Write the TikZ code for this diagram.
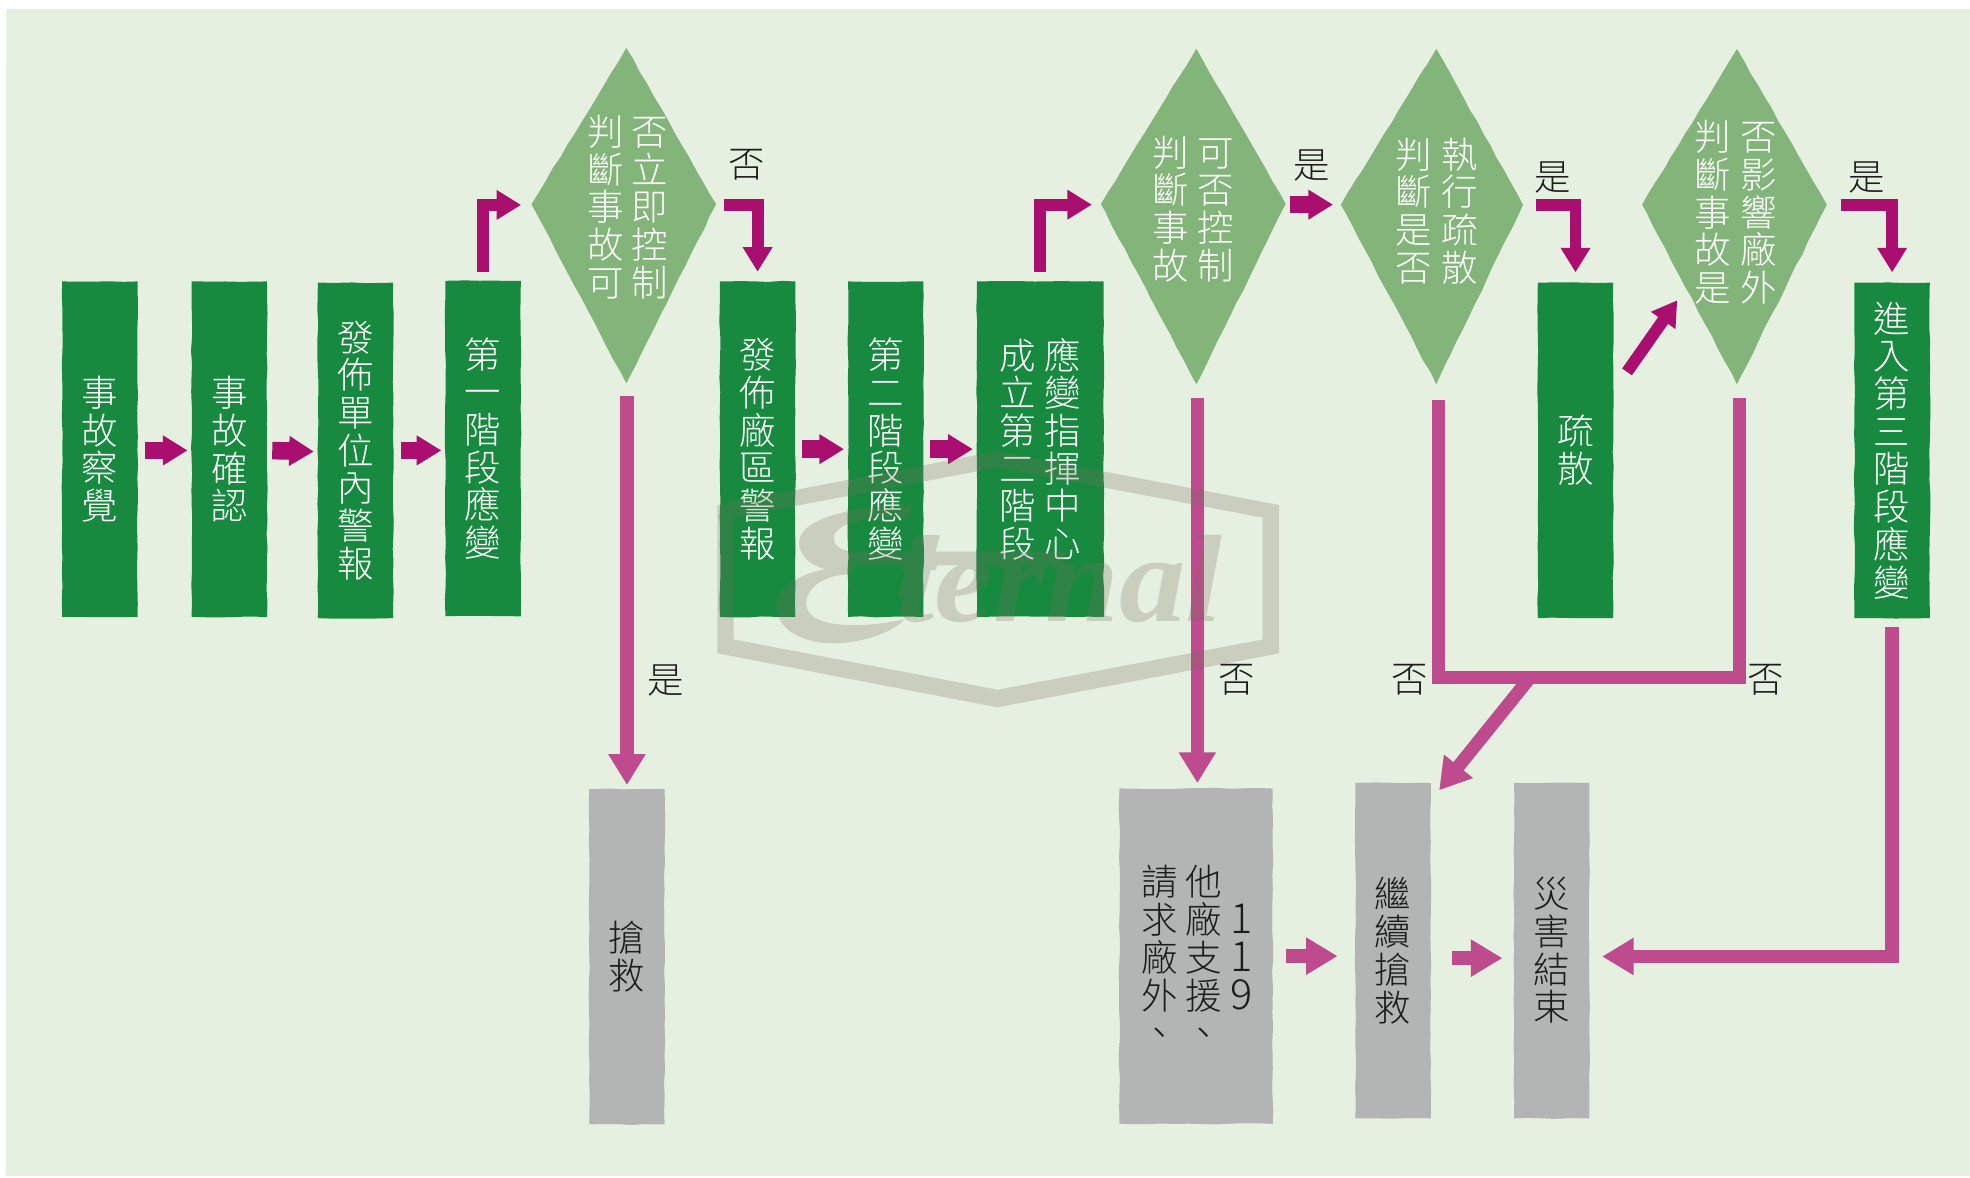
\documentclass[tikz,border=0pt]{standalone}
\usepackage{fontspec}
\usetikzlibrary{arrows.meta,decorations.pathmorphing,calc}
\newfontfamily\cjkl{Noto Sans CJK TC Light}
\newfontfamily\wmfont[Ligatures=TeX]{Liberation Serif}
\definecolor{bgc}{RGB}{230,240,224}
\definecolor{gbc}{RGB}{24,138,63}
\definecolor{dic}{RGB}{131,181,123}
\definecolor{gyc}{RGB}{179,181,180}
\definecolor{mgc}{RGB}{170,15,111}
\definecolor{pkc}{RGB}{189,75,141}
\definecolor{wmc}{RGB}{119,111,96}
\definecolor{txc}{RGB}{28,28,28}
\newcommand\vc[1]{\vtop{\let\\\cr\lineskiplimit=-60pt\baselineskip=30pt\halign{\hfil##\hfil\cr#1\crcr}}}
\tikzset{
  rough/.style={decorate,decoration={random steps,segment length=11pt,amplitude=0.45pt}},
  wtxt/.style={text=white,font=\cjkl\fontsize{29}{30}\selectfont,inner sep=0pt},
  ktxt/.style={text=txc,font=\cjkl\fontsize{29}{30}\selectfont,inner sep=0pt},
  gbox/.style={wtxt,rectangle,fill=gbc,rough,minimum height=267pt,minimum width=#1},
  gbox/.default=60pt,
  gray box/.style={ktxt,rectangle,fill=gyc,rough,minimum height=267pt,minimum width=#1},
  gray box/.default=60pt,
  dia/.style 2 args={rectangle,inner sep=0pt,minimum width=147pt,minimum height=267pt,
    path picture={\fill[dic,rough]
      ([xshift=#1]path picture bounding box.north) --
      ([yshift=#2]path picture bounding box.east) --
      ([xshift=#1]path picture bounding box.south) --
      ([yshift=#2]path picture bounding box.west) -- cycle;}},
  fat/.style={draw=mgc,line width=14pt,-{Triangle[length=19.6pt,width=22.5pt]}},
  elbowm/.style={draw=mgc,line width=9.5pt,-{Triangle[length=19.6pt,width=22.5pt]}},
  pinkv/.style={draw=pkc,line width=10.5pt,-{Triangle[length=24.5pt,width=28pt]}},
  pinkf/.style={draw=pkc,line width=10.7pt,-{Triangle[length=25pt,width=28pt]}},
  pinkl/.style={draw=pkc,line width=10.5pt},
}
\pgfmathsetseed{11}
\begin{document}
\begin{tikzpicture}[x=1pt,y=-1pt]
\useasboundingbox (0,0) rectangle (1568,936.9);
\fill[white] (0,0) rectangle (1568,936.9);
\fill[bgc] (5,7) -- (1568,7) -- (1568,936) -- (4.5,936) -- cycle;

% process boxes
\node[gbox] (b1) at (79.5,357.5) {\vc{事\\故\\察\\覺}};
\node[gbox] (b2) at (182.5,357.5) {\vc{事\\故\\確\\認}};
\node[gbox] (b3) at (283,358.5) {\vc{發\\佈\\單\\位\\內\\警\\報}};
\node[gbox] (b4) at (384.5,357) {\vc{第\\一\\階\\段\\應\\變}};
\node[gbox] (b5) at (603,357.5) {\vc{發\\佈\\廠\\區\\警\\報}};
\node[gbox] (b6) at (705,357.5) {\vc{第\\二\\階\\段\\應\\變}};
\node[gbox=101pt] (b7) at (828,357.5) {\vc{成\\立\\第\\二\\階\\段}\hspace{7pt}\vc{應\\變\\指\\揮\\中\\心}};
\node[gbox] (b8) at (1254,358.5) {\vc{疏\\散}};
\node[gbox] (b9) at (1506,358.5) {\vc{進\\入\\第\\三\\階\\段\\應\\變}};

% decision diamonds
\node[dia={2pt}{9pt},label={[name=t1,wtxt,xshift=3pt,yshift=6.8pt]center:\vc{判\\斷\\事\\故\\可}\hspace{6.5pt}\vc{否\\立\\即\\控\\制}}] (d1) at (496.5,171.6) {};
\node[dia={2.4pt}{10pt},label={[name=t2,wtxt,yshift=6pt]center:\vc{判\\斷\\事\\故}\hspace{7pt}\vc{可\\否\\控\\制}}] (d2) at (949.8,172.4) {};
\node[dia={3.5pt}{9.5pt},minimum width=145pt,label={[name=t3,wtxt,xshift=3.8pt,yshift=4.4pt]center:\vc{判\\斷\\是\\否}\hspace{7pt}\vc{執\\行\\疏\\散}}] (d3) at (1139.7,172.4) {};
\node[dia={2pt}{9.5pt},label={[name=t4,wtxt,xshift=1pt,yshift=3.4pt]center:\vc{判\\斷\\事\\故\\是}\hspace{7pt}\vc{否\\影\\響\\廠\\外}}] (d4) at (1380.5,172.4) {};

% grey end boxes
\node[gray box] (g1) at (499,761.5) {\vc{搶\\救}};
\node[gray box=122pt] (g2) at (952,761) {\hspace{1.5pt}\vc{請\\求\\廠\\外\\、}\hspace{6.5pt}\vc{他\\廠\\支\\援\\、}\hspace{7pt}\vc{~\\{\fontsize{33}{30}\selectfont 1}\\{\fontsize{33}{30}\selectfont 1}\\{\fontsize{33}{30}\selectfont 9}\\~}};
\node[gray box] (g3) at (1108.8,756.6) {\vc{繼\\續\\搶\\救}};
\node[gray box] (g4) at (1235,756.6) {\vc{災\\害\\結\\束}};

% labels
\node[ktxt] (l1) at (594.5,131.5) {否};
\node[ktxt] (l2) at (1044,132) {是};
\node[ktxt] (l3) at (1236,141) {是};
\node[ktxt] (l4) at (1486,141) {是};
\node[ktxt] (l5) at (530,542) {是};
\node[ktxt] (l6) at (984,541) {否};
\node[ktxt] (l7) at (1122,541) {否};
\node[ktxt] (l8) at (1405,541) {否};

% short magenta arrows
\draw[fat,shorten <=5.5pt,shorten >=3pt] ([yshift=-1pt]b1.east) -- ([yshift=-1pt]b2.west);
\draw[fat,shorten <=4pt,shorten >=3pt] ([yshift=-1pt]b2.east) -- ([yshift=-1pt]b3.west -| b3.west);
\draw[fat,shorten <=6pt,shorten >=3pt] (b3.east) -- (b3.east -| b4.west);
\draw[fat,shorten <=5pt,shorten >=3pt] (b5.east) -- (b6.west);
\draw[fat,shorten <=5pt,shorten >=3pt] (b6.east) -- (b7.west);
\draw[fat,shorten <=3.5pt,shorten >=6pt] ([yshift=9.5pt]d2.east) -- ([yshift=9.5pt]d3.west);

% elbows
\draw[elbowm,shorten <=7pt,shorten >=8pt] (b4.north) |- ([yshift=8.5pt]d1.west);
\draw[elbowm,shorten <=7pt,shorten >=7pt] (b7.north) |- ([yshift=9.5pt]d2.west);
\draw[elbowm,shorten <=6pt,shorten >=7.5pt] ([yshift=8.5pt]d1.east) -| (b5.north);
\draw[elbowm,shorten <=10pt,shorten >=8pt] ([yshift=9.5pt]d3.east) -| (b8.north);
\draw[elbowm,shorten <=11pt,shorten >=8pt] ([yshift=9.5pt]d4.east) -| (b9.north);
\coordinate (e8) at (1295,296);
\coordinate (e4) at (1335,239);
\draw[elbowm] (e8) -- (e4);

% pink connectors
\draw[pinkv,shorten <=9.5pt,shorten >=3pt] (g1.north |- d1.south) -- (g1.north);
\draw[pinkv,shorten <=11pt,shorten >=4pt] ([xshift=1pt]g2.north |- d2.south) -- ([xshift=1pt]g2.north);
\coordinate (j) at (1384.5,539);
\coordinate (jd) at (1218,539);
\draw[pinkl,shorten <=12pt,shorten >=11pt] ([xshift=5pt]d3.south) |- (j) -- (j |- d4.south);
\coordinate (gt) at (1145.5,629);
\draw[pinkv] (jd) -- (gt);
\draw[pinkf,shorten <=6.5pt,shorten >=10pt] (b9.south) |- ([yshift=-4.7pt]g4.east);
\draw[pinkf,shorten <=10pt,shorten >=14pt] (g2.east) -- (g2.east -| g3.west);
\draw[pinkf,shorten <=17pt,shorten >=9pt] ([yshift=-6pt]g3.east) -- ([yshift=-6pt]g4.west);

% watermark
\begin{scope}[transparency group,opacity=0.26]
\fill[wmc,even odd rule]
  (571,402) -- (794,359) -- (1018,402) -- (1018,520) -- (794,563) -- (571,520) -- cycle
  (584,412) -- (794,372) -- (1005,412) -- (1005,509) -- (794,549) -- (584,509) -- cycle;
\fill[wmc] (726,402) .. controls (670,403) and (634,415) .. (636,434)
  .. controls (638,445) and (648,451) .. (657,453)
  .. controls (632,458) and (617,470) .. (618,484)
  .. controls (620,505) and (645,513) .. (668,512)
  .. controls (692,510) and (710,503) .. (720,493)
  .. controls (705,496) and (685,499) .. (668,497)
  .. controls (648,495) and (640,488) .. (642,477)
  .. controls (645,465) and (658,458) .. (676,457)
  -- (680,450) -- (845,450) -- (848,439) -- (683,439)
  .. controls (668,440) and (660,432) .. (665,424)
  .. controls (672,414) and (695,411) .. (723,412) -- cycle;
\fill[wmc] (728,426) -- (748,426) -- (735,476) -- (715,476) -- cycle;
\node[anchor=base west,inner sep=0pt,text=wmc,xscale=1.07,font=\wmfont\bfseries\itshape\fontsize{99}{99}\selectfont] (wm) at (714,495) {ternal};
\end{scope}
\end{tikzpicture}
\end{document}
